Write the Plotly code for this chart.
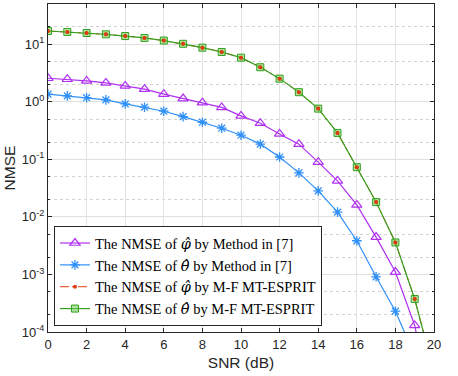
import plotly.graph_objects as go

snr = list(range(0, 21))
phi_m7 = [2.57, 2.47, 2.31, 2.13, 1.89, 1.66, 1.36, 1.14, 0.969, 0.80, 0.569, 0.425, 0.277, 0.184,
          0.0894, 0.0423, 0.0162, 0.00446, 0.0011, 1.3e-4, 3e-6]
theta_m7 = [1.36, 1.27, 1.18, 1.08, 0.92, 0.806, 0.687, 0.554, 0.442, 0.348, 0.263, 0.184, 0.110,
            0.0583, 0.0284, 0.0121, 0.00385, 9.1e-4, 2.3e-4, 3.9e-5, 1e-5]
phi_mf = [17.0, 16.4, 15.7, 14.9, 13.9, 12.9, 11.6, 10.2, 8.73, 7.35, 5.85, 3.99, 2.53, 1.47,
          0.762, 0.288, 0.0732, 0.0181, 0.0036, 3.74e-4, 2e-5]
theta_mf = [17.0, 16.4, 15.7, 14.9, 13.9, 12.9, 11.6, 10.2, 8.73, 7.35, 5.85, 3.99, 2.53, 1.47,
            0.762, 0.288, 0.0732, 0.0181, 0.0036, 3.74e-4, 2e-5]

ytick_vals = [1e-4, 1e-3, 1e-2, 1e-1, 1, 10]
ytick_text = ["10<sup>-4</sup>", "10<sup>-3</sup>", "10<sup>-2</sup>", "10<sup>-1</sup>",
              "10<sup>0</sup>", "10<sup>1</sup>"]

PHI = "<i><span style='font-family:DejaVu Serif'>φ̂</span></i>"
THETA = "<i><span style='font-family:DejaVu Serif'>θ̂</span></i>"
names = [
    f"The NMSE of {PHI} by Method in [7]",
    f"The NMSE of {THETA} by Method in [7]",
    f"The NMSE of {PHI} by M-F MT-ESPRIT",
    f"The NMSE of {THETA} by M-F MT-ESPRIT",
]

RED = "#E03A10"
GREEN = "#33A01C"

fig = go.Figure()
fig.add_trace(go.Scatter(x=snr, y=phi_m7, name=names[0], mode="lines+markers", legendrank=1,
                         line=dict(color="#B030F0", width=1.2),
                         marker=dict(symbol="triangle-up-open", size=9, color="#B030F0",
                                     line=dict(width=1.2))))
fig.add_trace(go.Scatter(x=snr, y=theta_m7, name=names[1], mode="lines+markers", legendrank=2,
                         line=dict(color="#3090F8", width=1.2),
                         marker=dict(symbol="asterisk-open", size=8, color="#3090F8",
                                     line=dict(width=1.3, color="#3090F8"))))
fig.add_trace(go.Scatter(x=snr, y=phi_mf, name=names[2], mode="lines+markers", legendrank=3,
                         line=dict(color=RED, width=1, dash="dashdot"),
                         marker=dict(symbol="circle", size=4, color=RED)))
fig.add_trace(go.Scatter(x=snr, y=theta_mf, name=names[3], mode="lines+markers", legendrank=4,
                         line=dict(color=GREEN, width=1.2),
                         marker=dict(symbol="square", size=7, color="rgba(110,205,90,0.55)",
                                     line=dict(width=1, color=GREEN))))
fig.add_trace(go.Scatter(x=snr, y=phi_mf, mode="markers", showlegend=False, hoverinfo="skip",
                         marker=dict(symbol="circle", size=4, color=RED)))

fig.update_layout(
    width=458, height=376,
    margin=dict(l=48, r=24, t=4, b=44),
    paper_bgcolor="white", plot_bgcolor="white",
    font=dict(family="Liberation Sans, Arial", size=13, color="#262626"),
    showlegend=True,
    legend=dict(x=0.0155, y=0.018, xanchor="left", yanchor="bottom",
                bgcolor="white", bordercolor="#262626", borderwidth=1,
                font=dict(family="Liberation Serif, Times New Roman", size=14.5, color="#000000"),
                traceorder="normal", tracegroupgap=0, itemwidth=30),
)
fig.update_xaxes(range=[0, 20], dtick=2, tick0=0, showgrid=True, gridcolor="#E3E3E3",
                 ticks="inside", ticklen=4, tickcolor="#262626", mirror="ticks",
                 showline=True, linecolor="#262626", linewidth=1, zeroline=False,
                 title=dict(text="SNR (dB)", font=dict(size=15.5), standoff=6),
                 tickfont=dict(size=13))
fig.update_yaxes(type="log", range=[-4, 1.7], tickvals=ytick_vals, ticktext=ytick_text,
                 showgrid=True, gridcolor="#E0E0E0",
                 ticks="inside", ticklen=4, tickcolor="#262626", mirror="ticks",
                 showline=True, linecolor="#262626", linewidth=1, zeroline=False,
                 minor=dict(showgrid=True, gridcolor="#D2D2D2", griddash="dot",
                            ticks="inside", ticklen=2, tickcolor="#262626"),
                 title=dict(text="NMSE", font=dict(size=15.5), standoff=2),
                 tickfont=dict(size=13))

fig.write_html("out.html", config={"displayModeBar": False},
               post_script="document.body.style.margin='0';")
